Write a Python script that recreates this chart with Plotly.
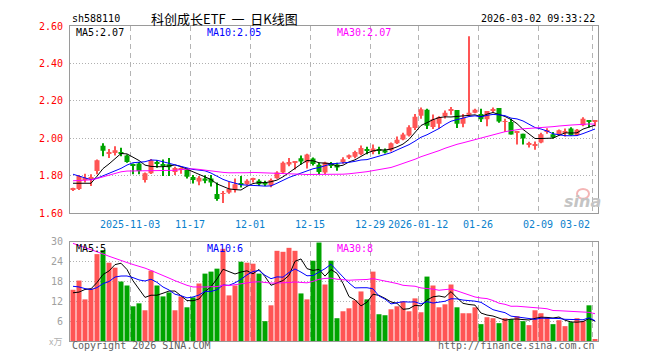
import plotly.graph_objects as go
import pandas as pd

# ---------------- data ----------------
tick_labels = ["2025-11-03", "11-17", "12-01", "12-15", "12-29",
               "2026-01-12", "01-26", "02-09", "03-02"]
tick_index = [10, 20, 30, 40, 50, 58, 68, 78, 87]

opens = [1.728, 1.730, 1.783, 1.784, 1.826, 1.961, 1.920, 1.923, 1.928, 1.909,
         1.862, 1.867, 1.779, 1.814, 1.872, 1.862, 1.862, 1.821, 1.836, 1.835,
         1.795, 1.770, 1.786, 1.786, 1.703, 1.705, 1.712, 1.726, 1.758, 1.756,
         1.780, 1.774, 1.765, 1.751, 1.788, 1.818, 1.861, 1.872, 1.895, 1.872,
         1.893, 1.860, 1.818, 1.867, 1.861, 1.875, 1.898, 1.902, 1.916, 1.940,
         1.928, 1.940, 1.937, 1.937, 1.975, 1.995, 2.016, 2.056, 2.121, 2.153,
         2.061, 2.079, 2.119, 2.150, 2.152, 2.079, 2.126, 2.137, 2.130, 2.102,
         2.150, 2.163, 2.088, 2.088, 2.032, 2.025, 1.968, 1.965, 1.979, 2.038,
         2.023, 2.018, 2.033, 2.053, 2.018, 2.070, 2.097, 2.090]
highs = [1.737, 1.805, 1.812, 1.809, 1.888, 1.975, 1.944, 1.958, 1.950, 1.914,
         1.866, 1.874, 1.818, 1.890, 1.884, 1.888, 1.896, 1.849, 1.846, 1.842,
         1.805, 1.800, 1.804, 1.805, 1.765, 1.720, 1.768, 1.786, 1.800, 1.782,
         1.791, 1.782, 1.774, 1.786, 1.825, 1.877, 1.896, 1.877, 1.909, 1.918,
         1.898, 1.870, 1.876, 1.875, 1.870, 1.900, 1.915, 1.935, 1.963, 1.956,
         1.968, 1.956, 1.946, 1.978, 2.010, 2.030, 2.070, 2.130, 2.165, 2.158,
         2.128, 2.119, 2.149, 2.168, 2.152, 2.130, 2.545, 2.158, 2.158, 2.147,
         2.165, 2.163, 2.105, 2.105, 2.040, 2.025, 1.982, 1.984, 2.030, 2.055,
         2.035, 2.048, 2.053, 2.060, 2.050, 2.113, 2.097, 2.097]
lows = [1.720, 1.725, 1.765, 1.747, 1.809, 1.905, 1.896, 1.909, 1.905, 1.870,
        1.809, 1.809, 1.765, 1.810, 1.844, 1.800, 1.800, 1.805, 1.812, 1.786,
        1.760, 1.751, 1.761, 1.744, 1.668, 1.656, 1.705, 1.712, 1.739, 1.750,
        1.765, 1.746, 1.746, 1.740, 1.785, 1.810, 1.852, 1.835, 1.861, 1.840,
        1.856, 1.810, 1.810, 1.842, 1.828, 1.865, 1.890, 1.895, 1.910, 1.916,
        1.916, 1.916, 1.920, 1.930, 1.970, 1.990, 2.010, 2.045, 2.105, 2.050,
        2.050, 2.053, 2.107, 2.126, 2.056, 2.060, 2.119, 2.135, 2.088, 2.065,
        2.140, 2.084, 2.035, 2.021, 1.968, 1.968, 1.952, 1.940, 1.975, 2.025,
        2.000, 2.015, 2.010, 2.015, 2.015, 2.065, 2.058, 2.065]
closes = [1.732, 1.800, 1.787, 1.790, 1.884, 1.935, 1.924, 1.937, 1.918, 1.874,
          1.857, 1.826, 1.814, 1.884, 1.866, 1.856, 1.846, 1.842, 1.838, 1.796,
          1.779, 1.791, 1.775, 1.765, 1.677, 1.708, 1.730, 1.756, 1.754, 1.774,
          1.783, 1.756, 1.754, 1.779, 1.818, 1.870, 1.874, 1.875, 1.877, 1.915,
          1.864, 1.821, 1.872, 1.858, 1.845, 1.889, 1.910, 1.928, 1.949, 1.936,
          1.946, 1.936, 1.925, 1.975, 1.993, 2.021, 2.060, 2.116, 2.156, 2.068,
          2.102, 2.114, 2.137, 2.152, 2.079, 2.109, 2.137, 2.153, 2.102, 2.147,
          2.153, 2.091, 2.093, 2.021, 2.037, 2.000, 1.972, 1.968, 2.022, 2.042,
          2.005, 2.044, 2.036, 2.018, 2.047, 2.105, 2.092, 2.093]
volumes = [15.5, 18.3, 12.6, 15.9, 26.3, 27.5, 23.7, 22.2, 18.0, 16.8,
           10.5, 11.4, 9.3, 21.3, 16.8, 13.5, 14.7, 9.3, 13.5, 10.2,
           13.2, 17.4, 20.4, 21.0, 21.9, 27.9, 13.8, 16.8, 24.0, 23.7,
           23.4, 20.4, 6.0, 10.8, 27.3, 27.0, 28.2, 27.3, 14.4, 12.6,
           24.3, 29.8, 17.1, 24.3, 6.9, 9.0, 9.9, 12.3, 15.0, 12.6,
           21.0, 8.1, 7.8, 9.6, 10.5, 12.0, 9.0, 12.9, 8.7, 19.5,
           16.8, 10.2, 11.1, 17.1, 10.2, 8.4, 8.4, 10.2, 5.1, 7.2,
           6.9, 5.4, 6.9, 6.6, 7.5, 6.0, 4.8, 9.3, 8.4, 7.2,
           5.1, 6.3, 4.5, 5.7, 6.9, 6.0, 10.8, 0.6]

# sessions before the visible window (only used to warm up the moving averages)
prior_closes = [1.740, 1.727, 1.760, 1.674, 1.665, 1.624, 1.637, 1.708, 1.754, 1.857,
                1.826, 1.814, 1.884, 1.866, 1.856, 1.846, 1.722, 1.718, 1.676, 1.779,
                1.884, 1.911, 1.874, 1.808, 1.809, 1.800, 1.787, 1.790, 1.696]
prior_volumes = [36.3, 30.6, 36.9, 44.3, 48.5, 44.7, 43.2, 36.0, 34.8, 28.5,
                 26.4, 27.3, 42.3, 37.8, 37.5, 38.7, 33.3, 37.5, 28.2, 28.2,
                 20.3, 17.6, 18.9, 20.3, 15.5, 17.3, 8.6, 14.9, 16.7]

price_ma_labels = ["MA5:2.07", "MA10:2.05", "MA30:2.07"]
vol_ma_labels = ["MA5:5", "MA10:6", "MA30:8"]
ma_windows = [5, 10, 30]

# ---------------- styling ----------------
RED = "#ff5555"
GREEN = "#00a400"
MA_COLORS = ["#000000", "#0000ff", "#ff00ff"]
MONO = "DejaVu Sans Mono"
OFF = 8                                  # page body margin
W, H = 660 - OFF, 360 - OFF
L, R, T, B = 70, 598, 20, 341            # plot area in window pixels
PRICE_BOTTOM, VOL_TOP = 211, 240


def px(xp):
    return (xp - L) / (R - L)


def py(yp):
    return (B - yp) / (B - T)


n = len(closes)
xs = list(range(n))
colors = [RED if c >= o else GREEN for o, c in zip(opens, closes)]

close_all = pd.Series(prior_closes + closes)
vol_all = pd.Series(prior_volumes + volumes)
np_ = len(prior_closes)
price_mas = [close_all.rolling(w, min_periods=1).mean().tolist()[np_:] for w in ma_windows]
vol_mas = [vol_all.rolling(w, min_periods=1).mean().tolist()[np_:] for w in ma_windows]

MINB = 0.005
body_base, body_h = [], []
for o, c in zip(opens, closes):
    lo, hi = min(o, c), max(o, c)
    if hi - lo < MINB:
        mid = (lo + hi) / 2
        lo, hi = mid - MINB / 2, mid + MINB / 2
    body_base.append(lo)
    body_h.append(hi - lo)

fig = go.Figure()
# wicks
fig.add_trace(go.Bar(x=xs, y=[h - l for h, l in zip(highs, lows)], base=lows,
                     width=1 / 6, marker=dict(color=colors, line=dict(width=0)),
                     xaxis="x", yaxis="y", hoverinfo="skip"))
# bodies
fig.add_trace(go.Bar(x=xs, y=body_h, base=body_base, width=5 / 6,
                     marker=dict(color=colors, line=dict(width=0)),
                     xaxis="x", yaxis="y", hoverinfo="skip"))
for ma, col in zip(price_mas, MA_COLORS):
    fig.add_trace(go.Scatter(x=xs, y=ma, mode="lines", line=dict(color=col, width=1),
                             xaxis="x", yaxis="y", hoverinfo="skip"))
# volume
fig.add_trace(go.Bar(x=xs, y=volumes, width=5 / 6,
                     marker=dict(color=colors, line=dict(width=0)),
                     xaxis="x2", yaxis="y2", hoverinfo="skip"))
for ma, col in zip(vol_mas, MA_COLORS):
    fig.add_trace(go.Scatter(x=xs, y=ma, mode="lines", line=dict(color=col, width=1),
                             xaxis="x2", yaxis="y2", hoverinfo="skip"))

grid_x = [i - 0.5 for i in tick_index]
xcommon = dict(range=[-0.5, n - 0.5], tickvals=grid_x, showticklabels=False,
               showgrid=True, gridcolor="#b4b4b4", griddash="5px,4px", gridwidth=1,
               showline=True, linecolor="#9a9a9a", linewidth=1, mirror=True,
               zeroline=False, ticks="", fixedrange=True)
ycommon = dict(showgrid=True, gridcolor="#b0b0b0", griddash="1px,2px", gridwidth=1,
               showline=True, linecolor="#9a9a9a", linewidth=1, mirror=True,
               zeroline=False, ticks="outside", ticklen=4, tickcolor="rgba(0,0,0,0)",
               fixedrange=True)

price_ticks = [1.6, 1.8, 2.0, 2.2, 2.4, 2.6]
vol_ticks = [6, 12, 18, 24, 30]

fig.update_layout(
    width=W, height=H, autosize=False,
    margin=dict(l=L - OFF, r=660 - R, t=T - OFF, b=360 - B, pad=0),
    paper_bgcolor="white", plot_bgcolor="white",
    showlegend=False, barmode="overlay", hovermode=False,
    xaxis=dict(domain=[0, 1], anchor="y", **xcommon),
    xaxis2=dict(domain=[0, 1], anchor="y2", matches="x", **xcommon),
    yaxis=dict(domain=[py(PRICE_BOTTOM), 1], range=[1.6, 2.6], anchor="x",
               tickvals=price_ticks, ticktext=["%.2f" % v for v in price_ticks],
               tickfont=dict(family=MONO, size=10, color="#ff0000"), **ycommon),
    yaxis2=dict(domain=[0, py(VOL_TOP)], range=[0, 30], anchor="x2",
                tickvals=vol_ticks, ticktext=[str(v) for v in vol_ticks],
                tickfont=dict(family=MONO, size=10, color="#a0a0a0"), **ycommon),
)

ann = []
for i, lab in zip(tick_index, tick_labels):
    last = (i == tick_index[-1])
    ann.append(dict(x=i - 0.5, xref="x", y=py(222), yref="paper", text=lab,
                    showarrow=False, xanchor="right" if last else "center", yanchor="middle",
                    font=dict(family=MONO, size=10, color="#0a7fcc")))
ann.append(dict(x=0, y=py(12.5), xref="paper", yref="paper", text="sh588110",
                showarrow=False, xanchor="left", yanchor="middle",
                font=dict(family=MONO, size=10, color="#000")))
ann.append(dict(x=px(224), y=py(12.5), xref="paper", yref="paper",
                text="科创成长ETF\u00a0\u00a0一\u00a0\u00a0日K线图", showarrow=False,
                xanchor="center", yanchor="middle",
                font=dict(family="Noto Sans CJK SC", size=13, color="#000")))
ann.append(dict(x=px(597), y=py(12.5), xref="paper", yref="paper",
                text="2026-03-02 09:33:22", showarrow=False, xanchor="right",
                yanchor="middle", font=dict(family=MONO, size=10, color="#000")))
lab_x = [74, 204.5, 334.5]
for t, xx, col in zip(price_ma_labels, lab_x, MA_COLORS):
    ann.append(dict(x=px(xx), y=py(26.5), xref="paper", yref="paper", text=t,
                    showarrow=False, xanchor="left", yanchor="middle",
                    font=dict(family=MONO, size=10, color=col)))
for t, xx, col in zip(vol_ma_labels, lab_x, MA_COLORS):
    ann.append(dict(x=px(xx), y=py(247), xref="paper", yref="paper", text=t,
                    showarrow=False, xanchor="left", yanchor="middle",
                    font=dict(family=MONO, size=10, color=col)))
ann.append(dict(x=px(64), y=py(341.5), xref="paper", yref="paper", text="x万",
                showarrow=False, xanchor="right", yanchor="middle",
                font=dict(family="Noto Sans CJK SC", size=9, color="#b0b0b0")))
ann.append(dict(x=0, y=py(346), xref="paper", yref="paper", text="Copyright 2026 SINA.COM",
                showarrow=False, xanchor="left", yanchor="middle",
                font=dict(family=MONO, size=10, color="#606060")))
ann.append(dict(x=px(597), y=py(346), xref="paper", yref="paper",
                text="http://finance.sina.com.cn", showarrow=False, xanchor="right",
                yanchor="middle", font=dict(family=MONO, size=10, color="#606060")))
ann.append(dict(x=px(582), y=py(199), xref="paper", yref="paper", text="sina",
                showarrow=False, xanchor="center", yanchor="middle",
                font=dict(family="DejaVu Sans", size=16, color="#c4c4c4",
                          weight="bold", style="italic")))
fig.update_layout(annotations=ann)
fig.add_shape(type="circle", xref="paper", yref="paper",
              x0=px(577), x1=px(589), y0=py(196), y1=py(186),
              line=dict(color="rgba(235,120,120,0.55)", width=2))

fig.write_html("out.html")
